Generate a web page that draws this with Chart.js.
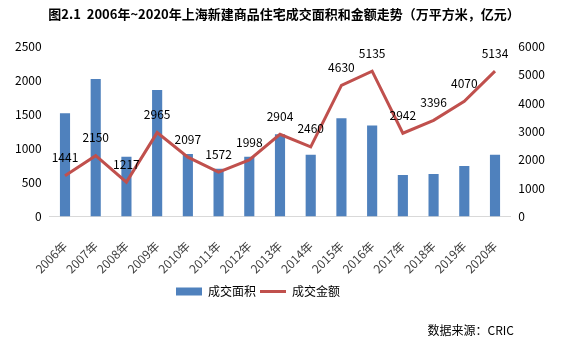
<!DOCTYPE html>
<html>
<head>
<meta charset="utf-8">
<script src="https://cdn.jsdelivr.net/npm/chart.js@4"></script>
<style>
  html, body { margin: 0; padding: 0; background: #fff; }
  #wrap { width: 566px; height: 344px; }
</style>
</head>
<body>
<div id="wrap"><canvas id="chart"></canvas></div>
<script>
// data
const years = ['2006年', '2007年', '2008年', '2009年', '2010年', '2011年', '2012年', '2013年',
               '2014年', '2015年', '2016年', '2017年', '2018年', '2019年', '2020年'];
const areaValues = [1520, 2025, 880, 1860, 920, 705, 880, 1210, 910, 1445, 1340, 610, 625, 745, 910];
const amountValues = [1441, 2150, 1217, 2965, 2097, 1572, 1998, 2904, 2460, 4630, 5135, 2942, 3396, 4070, 5134];
const areaTicks = [0, 500, 1000, 1500, 2000, 2500];
const amountTicks = [0, 1000, 2000, 3000, 4000, 5000, 6000];

const FONT = "'Noto Sans CJK SC', 'Noto Sans', sans-serif";
const SOURCE_TEXT = '数据来源：CRIC';

// value labels above the line points
const lineLabels = {
    id: 'lineLabels',
    afterDatasetsDraw(chart) {
        const ctx = chart.ctx;
        const meta = chart.getDatasetMeta(1);
        ctx.save();
        ctx.font = '12px ' + FONT;
        ctx.fillStyle = '#000';
        ctx.textAlign = 'center';
        ctx.textBaseline = 'middle';
        meta.data.forEach((pt, i) => {
            ctx.fillText(amountValues[i], pt.x, pt.y - 18);
        });
        ctx.restore();
    }
};

// title, legend and source note are not centred on the canvas in the original
const shiftBoxes = {
    id: 'shiftBoxes',
    afterLayout(chart) {
        const lg = chart.legend;
        if (lg) {
            lg.left -= 22;
            lg.right -= 22;
        }
        const tb = chart.titleBlock;
        if (tb) {
            tb.left += 4;
            tb.right += 4;
        }
        const st = chart.boxes.find(b => b !== lg && b.options && b.options.text === SOURCE_TEXT);
        if (st) {
            st.right -= 39;
        }
    }
};

new Chart(document.getElementById('chart'), {
    type: 'bar',
    data: {
        labels: years,
        datasets: [
            {
                label: '成交面积',
                data: areaValues,
                yAxisID: 'y',
                backgroundColor: '#4f81bd',
                barPercentage: 0.33,
                categoryPercentage: 1,
                pointStyle: 'rect',
                order: 1
            },
            {
                type: 'line',
                label: '成交金额',
                data: amountValues,
                yAxisID: 'y1',
                borderColor: '#c0504d',
                backgroundColor: '#c0504d',
                borderWidth: 3,
                pointRadius: 0,
                tension: 0,
                pointStyle: 'line',
                order: 0
            }
        ]
    },
    options: {
        responsive: true,
        maintainAspectRatio: false,
        animation: false,
        layout: { padding: { left: 7, right: 13, top: 4, bottom: 6 } },
        scales: {
            x: {
                grid: { display: false, drawTicks: false },
                border: { color: '#d9d9d9' },
                afterFit: (axis) => {
                    // rotated labels may hang past the plot edges, as in the original
                    axis.height = 65;
                    axis.paddingLeft = 0;
                    axis.paddingRight = 0;
                    axis._computeLabelArea = () => undefined;
                },
                ticks: {
                    font: { family: FONT, size: 12 },
                    color: '#404040',
                    minRotation: 45,
                    maxRotation: 45,
                    padding: 22
                }
            },
            y: {
                position: 'left',
                min: 0,
                max: 2500,
                grid: { display: false, drawTicks: false },
                border: { display: false },
                afterBuildTicks: (axis) => { axis.ticks = areaTicks.map(v => ({ value: v })); },
                ticks: {
                    font: { family: FONT, size: 12 },
                    color: '#000',
                    padding: 8,
                    callback: (v) => String(v)
                }
            },
            y1: {
                position: 'right',
                min: 0,
                max: 6000,
                grid: { display: false, drawTicks: false },
                border: { display: false },
                afterBuildTicks: (axis) => { axis.ticks = amountTicks.map(v => ({ value: v })); },
                ticks: {
                    font: { family: FONT, size: 12 },
                    color: '#000',
                    padding: 8,
                    callback: (v) => String(v)
                }
            }
        },
        plugins: {
            title: {
                display: true,
                text: '图2.1  2006年~2020年上海新建商品住宅成交面积和金额走势（万平方米，亿元）',
                font: { family: FONT, size: 13, weight: 'bold' },
                color: '#000',
                padding: { top: 2, bottom: 25 }
            },
            subtitle: {
                display: true,
                position: 'bottom',
                align: 'end',
                text: SOURCE_TEXT,
                font: { family: FONT, size: 12 },
                color: '#000',
                padding: { top: 16, bottom: 0 }
            },
            legend: {
                position: 'bottom',
                labels: {
                    usePointStyle: true,
                    pointStyleWidth: 26,
                    boxHeight: 8,
                    font: { family: FONT, size: 12 },
                    color: '#000',
                    padding: 4,
                    sort: (a, b) => a.datasetIndex - b.datasetIndex
                }
            },
            tooltip: { enabled: false }
        }
    },
    plugins: [lineLabels, shiftBoxes]
});
</script>
</body>
</html>
